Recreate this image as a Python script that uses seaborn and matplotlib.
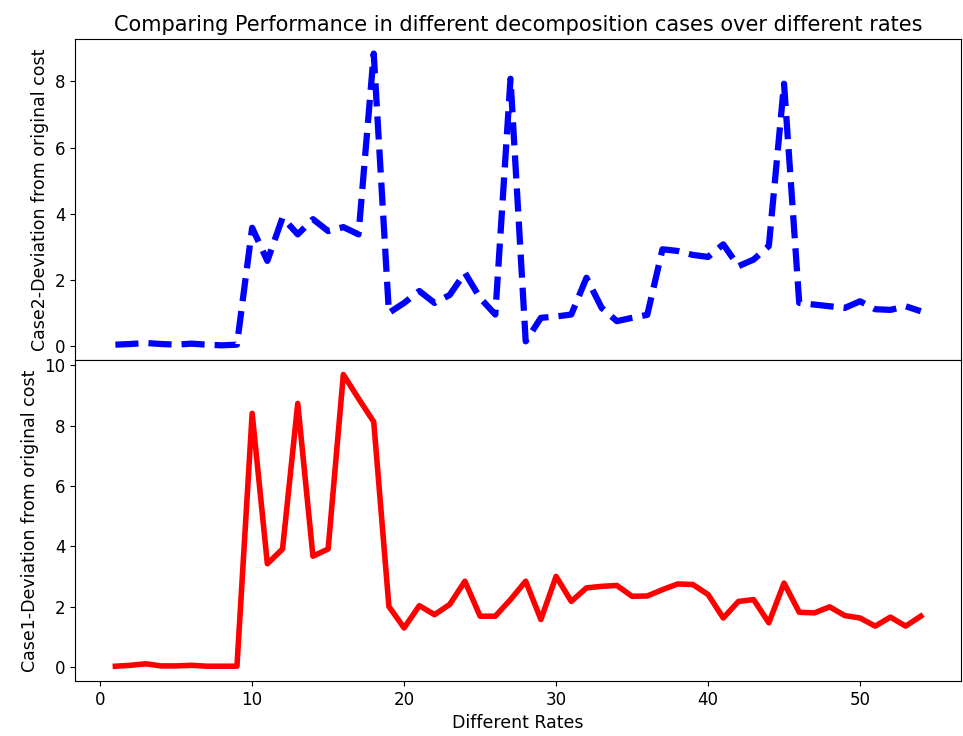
import matplotlib
matplotlib.use("Agg")
import matplotlib.pyplot as plt
import seaborn as sns
import pandas as pd

# rates 1..54
rates = list(range(1, 55))

# Case1 deviation (bottom, red)
case1 = [0.02, 0.05, 0.10, 0.03, 0.03, 0.05, 0.02, 0.02, 0.02, 8.41,
         3.42, 3.91, 8.74, 3.67, 3.91, 9.70, 8.90, 8.13, 2.00, 1.29,
         2.03, 1.73, 2.07, 2.84, 1.68, 1.68, 2.23, 2.84, 1.57, 3.00,
         2.17, 2.62, 2.67, 2.70, 2.34, 2.35, 2.56, 2.75, 2.73, 2.40,
         1.62, 2.17, 2.23, 1.46, 2.78, 1.81, 1.79, 1.99, 1.70, 1.62,
         1.35, 1.65, 1.35, 1.68]

# Case2 deviation (top, blue dashed)
case2 = [0.05, 0.07, 0.10, 0.07, 0.05, 0.08, 0.05, 0.03, 0.05, 3.58,
         2.58, 3.89, 3.38, 3.84, 3.48, 3.60, 3.38, 8.84, 1.01, 1.31,
         1.67, 1.31, 1.55, 2.22, 1.46, 0.96, 8.08, 0.15, 0.86, 0.90,
         0.96, 2.07, 1.16, 0.76, 0.86, 0.95, 2.93, 2.88, 2.76, 2.70,
         3.08, 2.42, 2.62, 3.03, 7.93, 1.31, 1.26, 1.21, 1.16, 1.36,
         1.12, 1.10, 1.21, 1.06]

df = pd.DataFrame({"rate": rates, "case1": case1, "case2": case2})

plt.rcParams['font.family'] = ['DejaVu Sans']
fig, (ax1, ax2) = plt.subplots(2, 1, sharex=True, figsize=(9.63, 7.36), dpi=100,
                               gridspec_kw={'hspace': 0})
fig.subplots_adjust(left=0.078, right=0.998, top=0.947, bottom=0.075)

sns.lineplot(data=df, x="rate", y="case2", ax=ax1, color="blue",
             linestyle="--", linewidth=4.5)
sns.lineplot(data=df, x="rate", y="case1", ax=ax2, color="red",
             linewidth=4)

ax1.set_title("Comparing Performance in different decomposition cases over different rates",
              fontsize=15)
ax1.set_ylabel("Case2-Deviation from original cost", fontsize=12.5)
ax2.set_ylabel("Case1-Deviation from original cost", fontsize=12.5)
ax2.set_xlabel("Different Rates", fontsize=12.5)
ax1.set_xlabel("")
ax1.tick_params(axis='x', bottom=False, labelbottom=False)
ax1.tick_params(axis='y', labelsize=12)
ax2.tick_params(labelsize=12)
ax1.set_yticks([0, 2, 4, 6, 8])
ax2.set_yticks([0, 2, 4, 6, 8, 10])

fig.savefig("out.png", dpi=100)
